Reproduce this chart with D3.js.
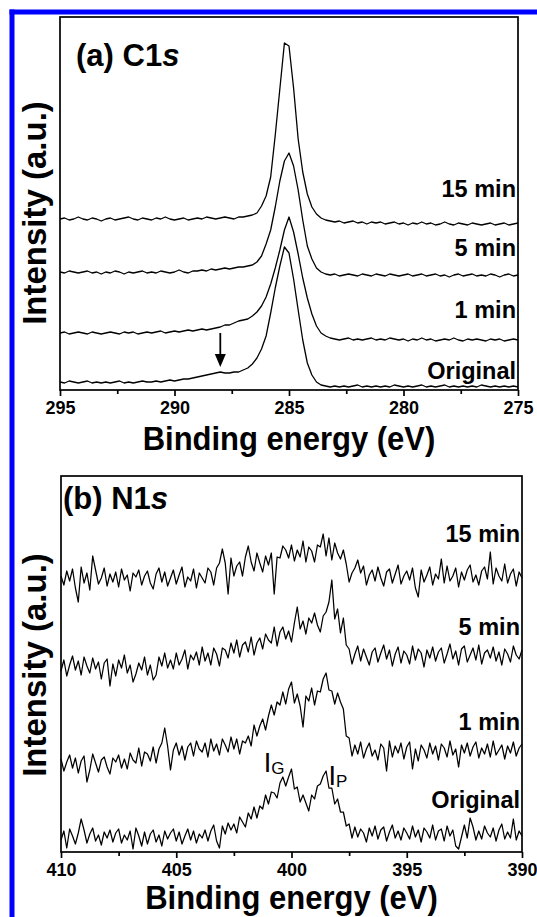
<!DOCTYPE html>
<html><head><meta charset="utf-8">
<script src="https://cdn.jsdelivr.net/npm/d3@7/dist/d3.min.js"></script>
<style>html,body{margin:0;padding:0;background:#fff;}svg{display:block;}</style>
</head><body>
<svg id="chart" width="537" height="917"></svg>
<script>
// ---------- DATA ----------
// C1s: binding energy sampling grid (eV)
const c1sStart = 295, c1sStep = -0.2, c1sCount = 101;
const c1sTicks = [295, 290, 285, 280, 275];
const c1sMinorTicks = [292.5, 287.5, 282.5, 277.5];
const seriesLabels = ["15 min", "5 min", "1 min", "Original"];
// intensities (a.u.)
const c1s15 = [171,172,170,171,173,171,170,172,171,169,
171,172,170,171,172,173,171,170,172,171,
170,172,171,173,171,170,171,172,170,171,
172,171,173,172,171,172,173,172,171,173,
173,174,175,177,184,194,213,255,301,347,
344,302,251,218,196,183,176,172,170,169,
168,169,167,168,169,167,168,166,168,167,
168,166,167,168,166,167,165,167,166,168,
166,167,165,166,168,166,165,167,166,165,
167,166,165,166,167,165,166,167,165,166,167];
const c1s5 = [118,117,119,118,117,118,119,117,118,116,
118,117,119,118,116,118,117,118,119,117,
118,117,119,118,117,118,120,118,117,119,
119,120,119,121,120,121,122,121,122,123,
123,124,125,128,134,146,160,183,209,229,
237,224,200,170,144,131,122,118,116,115,
116,114,115,116,115,114,116,115,114,116,
115,114,116,115,114,115,116,114,115,116,
114,115,116,114,115,113,115,116,114,115,
116,114,115,114,116,115,113,115,116,114,115];
const c1s1 = [57,58,56,57,58,57,56,58,57,56,
57,58,57,56,58,57,58,56,57,58,
57,58,59,57,58,59,58,59,60,59,
60,61,60,61,62,63,65,65,67,69,
70,71,74,78,84,93,106,122,140,160,
173,158,136,112,92,76,64,57,54,52,
51,50,51,52,50,51,50,51,52,50,
51,50,52,51,50,51,49,51,50,52,
50,51,49,50,51,50,52,50,49,51,
50,51,50,49,51,50,51,49,50,51,50];
const c1sOrig = [8,7,9,8,7,8,9,7,8,7,
8,7,8,9,7,8,7,8,9,8,
8,9,8,9,10,9,10,11,11,12,
13,14,15,16,17,18,17,17,18,18,
20,22,26,32,41,54,77,102,124,143,
137,111,80,50,27,15,8,5,4,3,
4,3,4,3,4,5,3,4,3,4,
3,4,3,5,4,3,4,3,4,5,
3,4,3,4,5,3,4,3,4,3,
4,3,5,4,3,4,3,4,3,4,3];
// arrow marking the 288 eV feature (energy, from/to intensity)
const arrowEnergy = 288.0, arrowFrom = 57, arrowTo = 23;

// N1s: binding energy sampling grid (eV)
const n1sStart = 410, n1sStep = -0.125, n1sCount = 161;
const n1sTicks = [410, 405, 400, 395, 390];
const n1sMinorTicks = [407.5, 402.5, 397.5, 392.5];
const n1s15 = [276,267,281,271,283,264,250,285,269,279,
262,296,282,268,274,284,266,278,270,280,
265,283,272,277,261,279,275,282,267,276,
281,269,263,278,284,270,280,266,274,282,
268,277,285,265,275,271,283,264,279,274,
269,284,280,267,284,289,303,289,258,294,
276,286,290,276,295,306,290,281,299,289,
280,296,287,299,258,295,294,306,302,294,
307,291,302,295,311,290,305,301,290,307,
305,318,296,314,292,309,299,293,302,288,
270,279,284,292,279,286,267,277,282,271,
285,274,266,280,283,269,278,287,268,276,
281,272,284,264,255,282,270,277,285,267,
278,273,293,269,286,271,276,284,265,280,
272,282,287,270,277,267,281,285,273,300,
268,284,276,271,288,269,278,283,266,280,
274];
const n1s5 = [181,192,176,187,196,182,191,177,195,186,
179,194,183,190,173,189,193,166,188,176,
192,184,197,179,187,170,178,189,182,195,
177,187,172,177,195,186,199,184,192,183,
199,187,193,202,183,197,192,200,187,205,
191,199,187,204,198,186,204,202,194,209,
199,212,195,207,210,200,215,197,209,214,
203,218,212,209,225,206,220,225,213,221,
210,229,245,223,231,218,234,229,239,227,
220,236,240,250,272,233,243,219,234,207,
203,188,198,206,191,203,195,187,200,204,
190,199,207,193,202,186,198,205,189,201,
197,188,206,192,203,199,185,202,194,205,
191,200,204,189,198,208,193,201,187,203,
206,190,197,204,192,207,188,199,202,194,
205,191,200,187,203,198,190,206,197,193,
202];
const n1s1 = [93,81,90,97,84,94,79,91,96,70,
82,98,89,80,92,95,85,78,94,90,
97,84,93,83,99,92,89,104,86,100,
98,91,105,89,103,109,124,106,82,102,
109,97,106,92,105,109,96,111,103,100,
109,95,113,101,108,97,113,107,100,115,
103,113,98,111,109,116,106,127,116,126,
133,122,136,147,137,150,147,160,148,163,
170,149,158,146,125,156,151,164,147,161,
160,173,179,162,161,148,159,150,143,116,
114,96,107,98,110,94,103,109,96,102,
92,108,104,81,111,95,106,99,109,93,
105,110,83,103,91,107,102,94,109,98,
106,92,108,104,95,111,97,103,85,107,
99,109,96,105,110,94,104,98,108,95,
111,97,102,107,93,106,99,110,96,104,
108];
const n1sOrig = [12,21,4,23,16,8,19,33,22,9,
18,24,11,17,7,20,14,22,10,19,
23,9,17,12,21,3,24,16,6,20,
8,18,22,10,17,6,21,13,19,23,
11,20,8,16,23,12,21,9,18,14,
22,11,21,27,11,4,26,18,29,22,
28,19,35,30,25,39,33,45,34,46,
43,57,48,60,59,54,69,75,66,75,
83,63,65,50,57,49,41,57,53,66,
68,76,81,64,64,48,53,40,40,26,
28,14,25,15,23,19,10,24,16,26,
13,22,25,11,20,27,14,21,12,24,
19,13,26,15,22,10,24,20,14,27,
12,21,23,11,26,16,22,6,3,15,
27,14,34,25,12,21,13,26,19,15,
24,11,22,28,13,20,14,33,12,21,
16];
// peak annotations (N1s): label, energy, intensity
const n1sPeakLabels = [{main:"I", sub:"G", e:401.2, v:80}, {main:"I", sub:"P", e:398.4, v:67}];

// ---------- DRAW ----------
const FONT = "'Liberation Sans', Arial, Helvetica, sans-serif";
const svg = d3.select("#chart");

// blue frame of the figure
svg.append("rect").attr("x", 9.5).attr("y", 9.5).attr("width", 540).attr("height", 5).attr("fill", "#0000ff");
svg.append("rect").attr("x", 9.5).attr("y", 9.5).attr("width", 5).attr("height", 920).attr("fill", "#0000ff");

function drawPanel(o) {
  const x = d3.scaleLinear().domain(o.xDomain).range([o.left, o.right]);
  const y = d3.scaleLinear().domain(o.yDomain).range([o.bottom, o.top]);
  const g = svg.append("g");
  const line = d3.line().x((d, i) => x(o.start + o.step * i)).y(d => y(d));
  o.series.forEach(s => {
    g.append("path").attr("d", line(s)).attr("fill", "none")
      .attr("stroke", "#000").attr("stroke-width", o.lw).attr("stroke-linejoin", "round");
  });
  g.append("rect").attr("x", o.left).attr("y", o.top)
    .attr("width", o.right - o.left).attr("height", o.bottom - o.top)
    .attr("fill", "none").attr("stroke", "#000").attr("stroke-width", 1.7);
  const ax = g.append("g").attr("transform", `translate(0,${o.bottom})`)
    .call(d3.axisBottom(x).tickValues(o.ticks).tickSize(6).tickSizeOuter(0).tickPadding(5).tickFormat(d3.format("d")));
  ax.select(".domain").remove();
  ax.selectAll("line").attr("stroke", "#000").attr("stroke-width", 1.7);
  ax.selectAll("text").attr("font-family", FONT).attr("font-weight", "bold")
    .attr("font-size", 18).attr("fill", "#000");
  const mx = g.append("g").attr("transform", `translate(0,${o.bottom})`)
    .call(d3.axisBottom(x).tickValues(o.minor).tickSize(4).tickSizeOuter(0).tickFormat(""));
  mx.select(".domain").remove();
  mx.selectAll("line").attr("stroke", "#000").attr("stroke-width", 1.7);
  // axis title
  g.append("text").attr("transform", `translate(${(o.left + o.right) / 2},${o.xTitleY}) scale(1,1.08)`)
    .attr("text-anchor", "middle").attr("font-family", FONT).attr("font-weight", "bold")
    .attr("font-size", 31).text("Binding energy (eV)");
  g.append("text").attr("transform", `translate(46,${o.yTitleY}) rotate(-90)`)
    .attr("text-anchor", "middle").attr("font-family", FONT).attr("font-weight", "bold")
    .attr("font-size", 33).text("Intensity (a.u.)");
  // panel label
  const pl = g.append("text").attr("x", o.labelX).attr("y", o.labelY)
    .attr("font-family", FONT).attr("font-weight", "bold").attr("font-size", 31);
  pl.append("tspan").text(o.panel[0]);
  pl.append("tspan").attr("font-style", "italic").text(o.panel[1]);
  // series labels
  seriesLabels.forEach((t, i) => {
    g.append("text").attr("x", o.seriesX).attr("y", o.seriesY[i])
      .attr("text-anchor", "end").attr("font-family", FONT).attr("font-weight", "bold")
      .attr("font-size", 23.5).text(t);
  });
  return {x, y, g};
}

// Panel (a) C1s
const pa = drawPanel({
  left: 60, right: 518, top: 17, bottom: 390,
  xDomain: [295, 275], yDomain: [0, 373],
  start: c1sStart, step: c1sStep,
  series: [c1s15, c1s5, c1s1, c1sOrig], lw: 1.3,
  ticks: c1sTicks, minor: c1sMinorTicks,
  xTitleY: 450, yTitleY: 213,
  panel: ["(a) C1", "s"], labelX: 76, labelY: 66,
  seriesX: 516, seriesY: [197, 256, 318, 379]
});
// arrow
{
  const ax = pa.x(arrowEnergy), y0 = pa.y(arrowFrom), y1 = pa.y(arrowTo);
  pa.g.append("line").attr("x1", ax).attr("x2", ax).attr("y1", y0).attr("y2", y1 - 8)
    .attr("stroke", "#000").attr("stroke-width", 1.8);
  pa.g.append("path").attr("d", `M${ax - 5.5},${y1 - 13}L${ax + 5.5},${y1 - 13}L${ax},${y1}Z`).attr("fill", "#000");
}

// Panel (b) N1s
const pb = drawPanel({
  left: 61, right: 522, top: 476, bottom: 852,
  xDomain: [410, 390], yDomain: [0, 376],
  start: n1sStart, step: n1sStep,
  series: [n1s15, n1s5, n1s1, n1sOrig], lw: 1.25,
  ticks: n1sTicks, minor: n1sMinorTicks,
  xTitleY: 909, yTitleY: 665,
  panel: ["(b) N1", "s"], labelX: 63, labelY: 509,
  seriesX: 520, seriesY: [542, 635, 730, 808]
});
n1sPeakLabels.forEach(p => {
  const t = pb.g.append("text").attr("x", pb.x(p.e)).attr("y", pb.y(p.v))
    .attr("font-family", FONT).attr("font-size", 27).attr("fill", "#000");
  t.append("tspan").text(p.main);
  t.append("tspan").attr("font-size", 17).attr("dy", 2).text(p.sub);
});
</script>
</body></html>
